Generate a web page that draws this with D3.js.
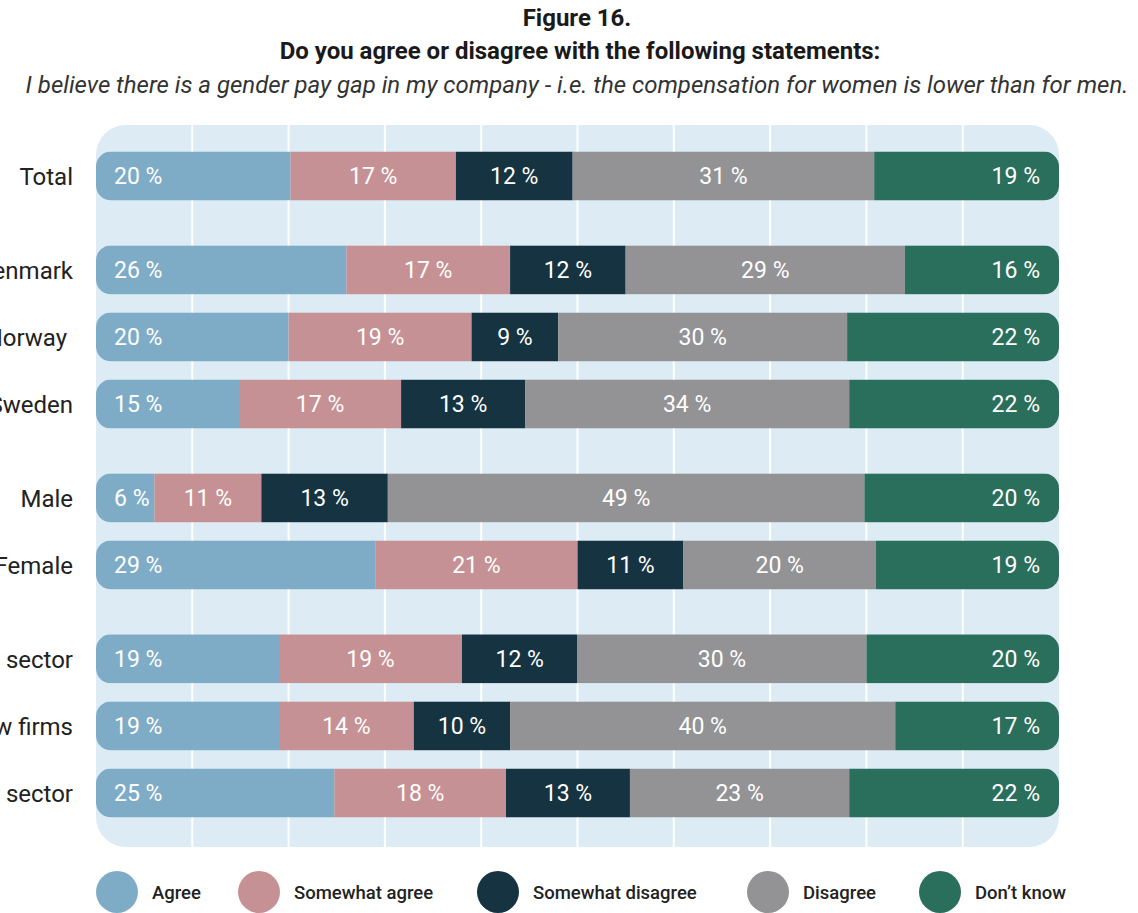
<!DOCTYPE html>
<html>
<head>
<meta charset="utf-8">
<script src="https://cdn.jsdelivr.net/npm/d3@7"></script>
<style>
  html, body { margin: 0; padding: 0; background: #ffffff; }
  svg { display: block; font-family: Roboto, "Noto Sans", sans-serif; }
  .cat { white-space: pre; }
</style>
</head>
<body>
<svg id="chart" width="1138" height="913"></svg>
<script>
// Survey answers, percent of respondents per group
const categories = ["Total", "Denmark", "Norway ", "Sweden", "Male", "Female", "Public sector", "Law firms", "Private sector"];
const groupOf =    [0, 1, 1, 1, 2, 2, 3, 3, 3];
const seriesNames = ["Agree", "Somewhat agree", "Somewhat disagree", "Disagree", "Don\u2019t know"];
const agree =             [20, 26, 20, 15,  6, 29, 19, 19, 25];
const somewhatAgree =     [17, 17, 19, 17, 11, 21, 19, 14, 18];
const somewhatDisagree =  [12, 12,  9, 13, 13, 11, 12, 10, 13];
const disagree =          [31, 29, 30, 34, 49, 20, 30, 40, 23];
const dontKnow =          [19, 16, 22, 22, 20, 19, 20, 17, 22];
const gridTicks = [0, 10, 20, 30, 40, 50, 60, 70, 80, 90, 100];

const colors = ["#7eacc7", "#c69194", "#163341", "#939396", "#2a6e5c"];

const svg = d3.select("#chart");

// Layout
const plotLeft = 96, plotRight = 1059;
const panelTop = 125, panelBottom = 847;
const barH = 49;

const x = d3.scaleLinear().domain([0, 100]).range([plotLeft, plotRight]);
// rows are spaced evenly, with an extra gap between groups
const slot = categories.map((c, i) => i + groupOf[i] * 0.4);
const y = d3.scaleLinear().domain([0, 8 + 3 * 0.4]).range([176, 793]);

const color = d3.scaleOrdinal().domain(seriesNames).range(colors);

// Titles
svg.append("text").attr("x", 577).attr("y", 26).attr("text-anchor", "middle")
  .attr("font-size", 24).attr("font-weight", 700).attr("fill", "#1a1a1a").text("Figure 16.");
svg.append("text").attr("x", 580).attr("y", 59).attr("text-anchor", "middle")
  .attr("font-size", 24).attr("font-weight", 700).attr("fill", "#1a1a1a")
  .text("Do you agree or disagree with the following statements:");
svg.append("text").attr("x", 577).attr("y", 93).attr("text-anchor", "middle")
  .attr("font-size", 24).attr("font-style", "italic").attr("fill", "#333333")
  .text("I believe there is a gender pay gap in my company - i.e. the compensation for women is lower than for men.");

// Background panel
const defs = svg.append("defs");
svg.append("rect").attr("x", plotLeft).attr("y", panelTop)
  .attr("width", plotRight - plotLeft).attr("height", panelBottom - panelTop)
  .attr("rx", 30).attr("fill", "#dcebf4");

// Vertical gridlines
svg.append("g").selectAll("line").data(gridTicks.slice(1, -1)).join("line")
  .attr("x1", d => x(d)).attr("x2", d => x(d))
  .attr("y1", panelTop).attr("y2", panelBottom)
  .attr("stroke", "#ffffff").attr("stroke-width", 2);

// Stack the series, normalised so every bar spans the full width
const rows = categories.map((c, i) => {
  const vals = [agree[i], somewhatAgree[i], somewhatDisagree[i], disagree[i], dontKnow[i]];
  const sum = d3.sum(vals);
  const r = { category: c, slot: slot[i], raw: vals };
  seriesNames.forEach((s, j) => r[s] = vals[j] / sum * 100);
  return r;
});
const stacked = d3.stack().keys(seriesNames)(rows);

// Rounded clip per bar
rows.forEach((r, i) => {
  defs.append("clipPath").attr("id", "clip" + i)
    .append("rect")
    .attr("x", x(0)).attr("y", y(r.slot) - barH / 2)
    .attr("width", x(100) - x(0)).attr("height", barH)
    .attr("rx", 15);
});

const bars = svg.append("g");
stacked.forEach((layer, j) => {
  const g = bars.append("g").attr("fill", color(layer.key));
  g.selectAll("rect").data(layer).join("rect")
    .attr("clip-path", (d, i) => `url(#clip${i})`)
    .attr("x", d => x(d[0]))
    .attr("y", d => y(d.data.slot) - barH / 2)
    .attr("width", d => x(d[1]) - x(d[0]))
    .attr("height", barH);
});

// Value labels
const labels = svg.append("g").attr("font-size", 23).attr("fill", "#ffffff");
stacked.forEach((layer, j) => {
  labels.selectAll(null).data(layer).join("text")
    .attr("x", d => j === 0 ? x(d[0]) + 18 : j === 4 ? x(d[1]) - 19 : (x(d[0]) + x(d[1])) / 2)
    .attr("y", d => y(d.data.slot))
    .attr("dy", "0.36em")
    .attr("text-anchor", j === 0 ? "start" : j === 4 ? "end" : "middle")
    .text(d => d.data.raw[j] + " %");
});

// Category labels
svg.append("g").selectAll("text").data(rows).join("text")
  .attr("class", "cat")
  .attr("x", 73).attr("y", d => y(d.slot)).attr("dy", "0.36em")
  .attr("text-anchor", "end").attr("font-size", 24).attr("fill", "#222222")
  .text(d => d.category);

// Legend
const legendX = [117, 259, 498, 768, 940];
const legend = svg.append("g");
seriesNames.forEach((s, j) => {
  legend.append("circle").attr("cx", legendX[j]).attr("cy", 892).attr("r", 21).attr("fill", color(s));
  legend.append("text").attr("x", legendX[j] + 35).attr("y", 892).attr("dy", "0.36em")
    .attr("font-size", 18.5).attr("font-weight", 500).attr("fill", "#222222").text(s);
});
</script>
</body>
</html>
